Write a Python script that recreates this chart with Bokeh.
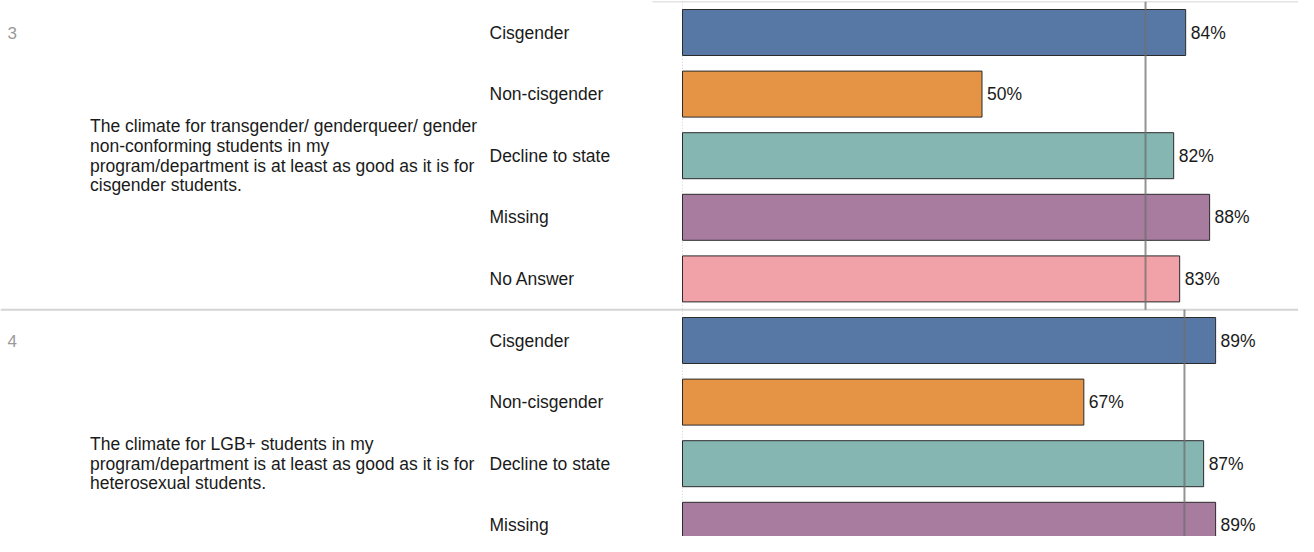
from bokeh.plotting import figure
from bokeh.models import Range1d, ColumnDataSource
from bokeh.core.properties import value
from bokeh.embed import file_html
from bokeh.resources import INLINE

# ---------------- data ----------------
categories = ["Cisgender", "Non-cisgender", "Decline to state", "Missing", "No Answer"]
question_ids = ["3", "4"]
questions = [
    "The climate for transgender/ genderqueer/ gender\nnon-conforming students in my\nprogram/department is at least as good as it is for\ncisgender students.",
    "The climate for LGB+ students in my\nprogram/department is at least as good as it is for\nheterosexual students.",
]
q3_values = [84, 50, 82, 88, 83]
q4_values = [89, 67, 87, 89]          # "No Answer" row of question 4 is off-screen
reference_values = [77.3, 83.8]       # vertical reference line per question
colors = ["#5778a4", "#e49444", "#85b6b2", "#a87c9f", "#f1a2a9"]

# ---------------- layout constants (pixels) ----------------
W, H = 1298, 536
PX_PER_PCT = 5.99
ZERO_PX = 682          # x pixel of 0 %
ROW_PX = 61.6          # row pitch
FIRST_ROW_PX = 32      # y pixel of first row centre
BAR_H = 46 / ROW_PX


def px_x(px):
    return (px - ZERO_PX) / PX_PER_PCT


x_start, x_end = px_x(0), px_x(W)
y_top = -FIRST_ROW_PX / ROW_PX
y_bot = (H - FIRST_ROW_PX) / ROW_PX

p = figure(width=W, height=H, output_backend="svg", toolbar_location=None,
           x_range=Range1d(x_start, x_end), y_range=Range1d(y_bot, y_top),
           x_axis_type=None, y_axis_type=None, min_border=0,
           outline_line_color=None, background_fill_color="white")
p.grid.visible = False

FONT = value("Liberation Sans")
FS = "17.5px"

n_cat = len(categories)
all_values = [q3_values, q4_values]

rows, vals, cols, labels, cat_labels = [], [], [], [], []
for k, vs in enumerate(all_values):
    for j, v in enumerate(vs):
        rows.append(k * n_cat + j)
        vals.append(v)
        cols.append(colors[j])
        labels.append(f"{v}%")
        cat_labels.append(categories[j])

src = ColumnDataSource(dict(row=rows, val=vals, col=cols, lab=labels, cat=cat_labels,
                            lab_x=[v + 5 / PX_PER_PCT for v in vals],
                            cat_x=[px_x(489)] * len(rows)))

# section separators
sep_y = [k * n_cat - 0.5 for k in range(len(all_values))]
p.segment(x0=[px_x(652)], x1=[x_end], y0=[sep_y[0]], y1=[sep_y[0]],
          line_color="#e3e3e3", line_width=1.5)
p.segment(x0=[x_start] * (len(sep_y) - 1), x1=[x_end] * (len(sep_y) - 1),
          y0=sep_y[1:], y1=sep_y[1:], line_color="#d4d4d4", line_width=2)

# dotted zero line
p.segment(x0=[0], x1=[0], y0=[sep_y[0]], y1=[y_bot], line_color="#d0d0d0",
          line_width=1, line_dash="1 2")

# bars
p.hbar(y="row", left=0, right="val", height=BAR_H, fill_color="col",
       line_color="#2b2b2b", line_width=1, source=src)

# reference lines
ref_y0 = [k * n_cat - 0.5 for k in range(len(all_values))]
ref_y1 = [min((k + 1) * n_cat - 0.5, y_bot) for k in range(len(all_values))]
p.segment(x0=reference_values, x1=reference_values, y0=ref_y0, y1=ref_y1,
          line_color="#6f6f6f", line_alpha=0.75, line_width=2)

# value labels
p.text(x="lab_x", y="row", text="lab", source=src, text_font=FONT, text_font_size=FS,
       text_baseline="middle", text_align="left", text_color="#1a1a1a")

# category labels
p.text(x="cat_x", y="row", text="cat", source=src, text_font=FONT, text_font_size=FS,
       text_baseline="middle", text_align="left", text_color="#1a1a1a")

# question texts and ids
q_centers = [k * n_cat + (n_cat - 1) / 2 for k in range(len(questions))]
p.text(x=[px_x(89.5)] * len(questions), y=q_centers, text=questions, text_font=FONT,
       text_font_size=FS, text_baseline="middle", text_align="left",
       text_color="#1a1a1a", text_line_height=0.99)
p.text(x=[px_x(7)] * len(question_ids), y=[k * n_cat for k in range(len(question_ids))],
       text=question_ids, text_font=FONT, text_font_size="17px", text_baseline="middle",
       text_align="left", text_color="#9a9a9a")

open("out.html", "w").write(file_html(p, INLINE))
